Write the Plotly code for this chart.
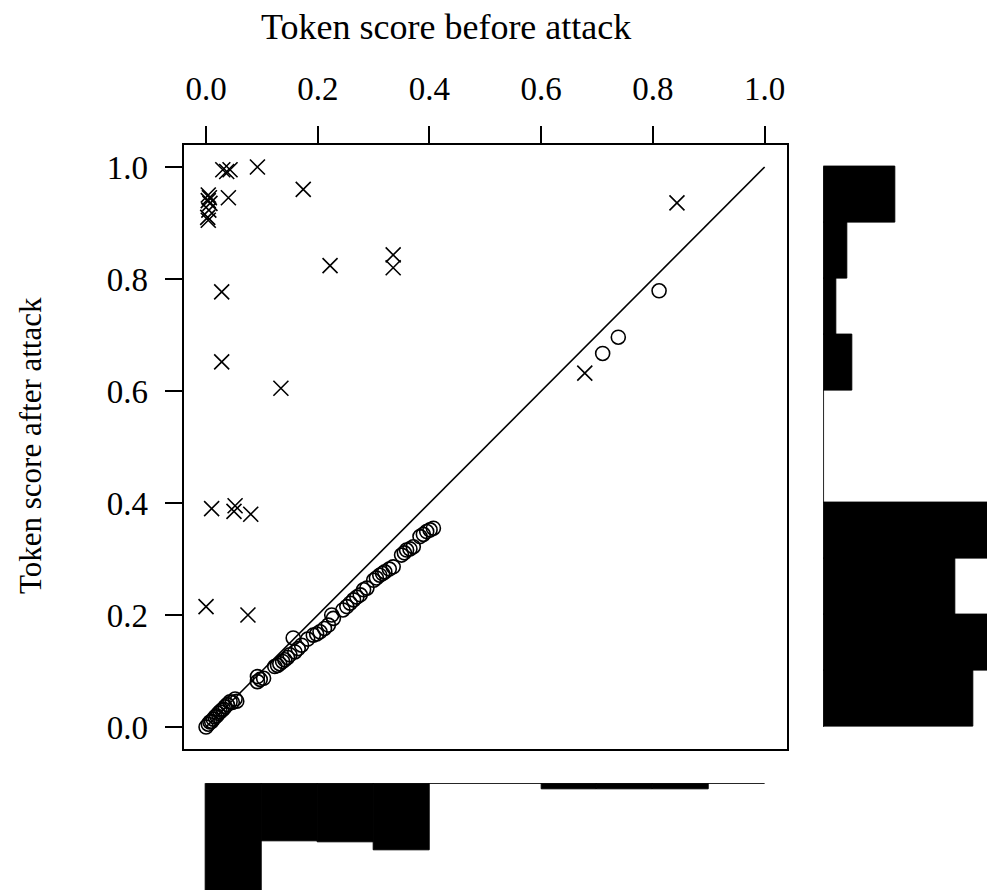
import plotly.graph_objects as go

# ---------------- data ----------------
# circles: tokens whose score dropped (below the diagonal)
circle_x = [0.000, 0.004, 0.007, 0.010, 0.013, 0.016, 0.019, 0.022, 0.025, 0.028,
            0.031, 0.034, 0.038, 0.043, 0.047, 0.052, 0.055, 0.092, 0.092, 0.097,
            0.103, 0.123, 0.128, 0.132, 0.137, 0.141, 0.146, 0.150, 0.156, 0.159,
            0.165, 0.171, 0.182, 0.192, 0.198, 0.204, 0.212, 0.219, 0.225, 0.228,
            0.245, 0.252, 0.258, 0.264, 0.270, 0.276, 0.282, 0.288, 0.300, 0.305,
            0.311, 0.316, 0.320, 0.328, 0.335, 0.350, 0.355, 0.359, 0.365, 0.371,
            0.383, 0.389, 0.395, 0.401, 0.407, 0.710, 0.738, 0.811]
circle_y = [0.000, 0.005, 0.009, 0.010, 0.014, 0.018, 0.020, 0.024, 0.027, 0.030,
            0.032, 0.036, 0.040, 0.045, 0.044, 0.050, 0.046, 0.081, 0.090, 0.085,
            0.087, 0.108, 0.110, 0.113, 0.117, 0.120, 0.124, 0.129, 0.159, 0.134,
            0.140, 0.146, 0.157, 0.164, 0.166, 0.170, 0.176, 0.182, 0.200, 0.194,
            0.209, 0.215, 0.221, 0.227, 0.232, 0.236, 0.245, 0.248, 0.262, 0.266,
            0.271, 0.274, 0.277, 0.282, 0.286, 0.307, 0.311, 0.316, 0.318, 0.322,
            0.340, 0.344, 0.349, 0.352, 0.355, 0.667, 0.696, 0.779]

# crosses: tokens whose score rose (above the diagonal)
cross_x = [0.030, 0.043, 0.037, 0.092, 0.174, 0.004, 0.006, 0.004, 0.007, 0.040,
           0.005, 0.003, 0.004, 0.222, 0.335, 0.335, 0.028, 0.028, 0.134, 0.010,
           0.050, 0.052, 0.080, 0.000, 0.075, 0.678, 0.843]
cross_y = [0.995, 0.995, 0.992, 1.000, 0.960, 0.950, 0.945, 0.940, 0.935, 0.945,
           0.923, 0.910, 0.905, 0.824, 0.843, 0.820, 0.777, 0.652, 0.605, 0.390,
           0.385, 0.395, 0.380, 0.215, 0.200, 0.632, 0.936]

# marginal histograms (bins of width 0.1 from 0 to 1), heights
bin_edges = [0.0, 0.1, 0.2, 0.3, 0.4, 0.5, 0.6, 0.7, 0.8, 0.9, 1.0]
hist_before = [30.0, 10.0, 10.3, 11.7, 0.0, 0.0, 1.0, 1.0, 1.0, 0.0]   # bottom
hist_after = [26.0, 34.0, 23.0, 34.0, 0.0, 0.0, 5.0, 2.2, 4.1, 12.6]   # right

tick_vals = [0.0, 0.2, 0.4, 0.6, 0.8, 1.0]
tick_text = ["0.0", "0.2", "0.4", "0.6", "0.8", "1.0"]

x_title = "Token score before attack"
y_title = "Token score after attack"

# ---------------- figure ----------------
# the page body has an 8px margin, so the figure is placed at (8, 8)
OFF = 8
W, H = 995 - OFF, 890 - OFF
FONT = "Liberation Serif"
FS = 33
PX_PER_COUNT = 5.75

bin_centers = [(a + b) / 2 for a, b in zip(bin_edges[:-1], bin_edges[1:])]
bin_w = bin_edges[1] - bin_edges[0]

main_l, main_r = 183.7 - OFF, 787.0 - OFF
main_t, main_b = 144.6 - OFF, 749.4 - OFF
right_l = 823.3 - OFF
bottom_t = 783.3 - OFF

fig = go.Figure()

# diagonal
fig.add_trace(go.Scatter(x=[bin_edges[0], bin_edges[-1]], y=[bin_edges[0], bin_edges[-1]],
                         mode="lines", line=dict(color="black", width=1.6),
                         xaxis="x", yaxis="y", showlegend=False, hoverinfo="skip"))
fig.add_trace(go.Scatter(x=circle_x, y=circle_y, mode="markers",
                         marker=dict(symbol="circle-open", size=14, color="black",
                                     line=dict(width=1.6)),
                         xaxis="x", yaxis="y", showlegend=False))
fig.add_trace(go.Scatter(x=cross_x, y=cross_y, mode="markers",
                         marker=dict(symbol="x-thin-open", size=15, color="black",
                                     line=dict(width=1.6)),
                         xaxis="x", yaxis="y", showlegend=False))

# right histogram (after)
fig.add_trace(go.Bar(y=bin_centers, x=hist_after, width=bin_w, orientation="h",
                     marker=dict(color="black", line=dict(color="black", width=1)),
                     xaxis="x2", yaxis="y2", showlegend=False))
fig.add_trace(go.Scatter(x=[0, 0], y=[bin_edges[0], bin_edges[-1]], mode="lines",
                         line=dict(color="black", width=1.5),
                         xaxis="x2", yaxis="y2", showlegend=False, hoverinfo="skip"))

# bottom histogram (before)
fig.add_trace(go.Bar(x=bin_centers, y=hist_before, width=bin_w,
                     marker=dict(color="black", line=dict(color="black", width=1)),
                     xaxis="x3", yaxis="y3", showlegend=False))
fig.add_trace(go.Scatter(x=[bin_edges[0], bin_edges[-1]], y=[0, 0], mode="lines",
                         line=dict(color="black", width=1.5),
                         xaxis="x3", yaxis="y3", showlegend=False, hoverinfo="skip"))

axis_common = dict(showgrid=False, zeroline=False, showline=True, mirror=True,
                   linecolor="black", linewidth=2, ticks="outside", ticklen=17,
                   tickwidth=1.6, tickcolor="black", tickvals=tick_vals,
                   ticktext=tick_text,
                   tickfont=dict(family=FONT, size=FS, color="black"))

main_xdom = [main_l / W, main_r / W]
main_ydom = [1 - main_b / H, 1 - main_t / H]
right_w_counts = (W - right_l) / PX_PER_COUNT
bottom_h_counts = (H - bottom_t) / PX_PER_COUNT

fig.update_layout(
    width=W, height=H,
    margin=dict(l=0, r=0, t=0, b=0),
    paper_bgcolor="white", plot_bgcolor="white",
    bargap=0,
    xaxis=dict(domain=main_xdom, range=[-0.04, 1.04], side="top", anchor="y",
               ticklabelstandoff=12, **axis_common),
    yaxis=dict(domain=main_ydom, range=[-0.04, 1.04], side="left", anchor="x",
               ticklabelstandoff=10, **axis_common),
    xaxis2=dict(domain=[right_l / W, 1.0], range=[0, right_w_counts], anchor="y2",
                visible=False),
    yaxis2=dict(domain=main_ydom, range=[-0.04, 1.04], anchor="x2", visible=False),
    xaxis3=dict(domain=main_xdom, range=[-0.04, 1.04], anchor="y3", visible=False),
    yaxis3=dict(domain=[0.0, 1 - bottom_t / H], range=[bottom_h_counts, 0],
                anchor="x3", visible=False),
    annotations=[
        dict(text=x_title, xref="paper", yref="paper", x=(445.5 - OFF) / W,
             y=1 - (27 - OFF) / H, xanchor="center", yanchor="middle", showarrow=False,
             font=dict(family=FONT, size=36, color="black")),
        dict(text=y_title, xref="paper", yref="paper", x=(30 - OFF) / W,
             y=1 - (446 - OFF) / H, xanchor="center", yanchor="middle",
             showarrow=False, textangle=-90,
             font=dict(family=FONT, size=31, color="black")),
    ],
)

fig.write_html("out.html")
